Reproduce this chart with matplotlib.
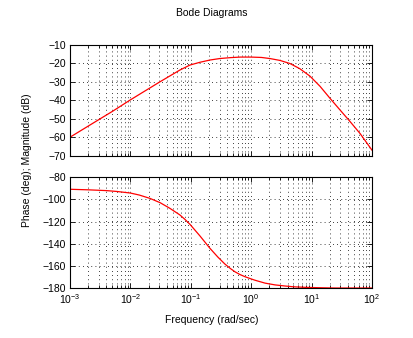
import matplotlib

matplotlib.use("Agg")
import matplotlib.pyplot as plt  # noqa: E402
from matplotlib.ticker import LogLocator, NullFormatter  # noqa: E402

# Magnitude response samples (rad/sec, dB)
MAG_FREQ = [0.001, 0.002, 0.00314, 0.005, 0.0098, 0.015, 0.021, 0.03, 0.045,
            0.066, 0.097, 0.142, 0.207, 0.3, 0.45, 0.66, 1.0, 1.48, 2.05,
            2.99, 4.4, 6.4, 9.4, 13.8, 20.2, 29.6, 43.5, 63.8, 100.0]
MAG_DB = [-60.0, -54.0, -50.1, -46.1, -40.0, -36.3, -33.4, -30.3, -26.9,
          -23.7, -21.0, -19.5, -18.3, -17.5, -17.0, -16.7, -16.7, -16.9,
          -17.5, -18.5, -20.2, -23.0, -27.0, -32.5, -39.0, -45.3, -51.6,
          -58.1, -67.0]

# Phase response samples (rad/sec, deg)
PHASE_FREQ = [0.001, 0.002, 0.004, 0.006, 0.01, 0.014, 0.021, 0.031, 0.045,
              0.066, 0.08, 0.097, 0.142, 0.208, 0.28, 0.366, 0.45, 0.537,
              0.65, 0.79, 1.0, 1.16, 1.7, 2.49, 3.65, 5.0, 7.8, 15.0, 24.6,
              100.0]
PHASE_DEG = [-90.8, -91.3, -92.0, -92.8, -94.2, -96.0, -99.0, -102.9, -108.0,
             -114.0, -118.0, -122.5, -133.0, -144.2, -152.0, -158.3, -162.3,
             -165.3, -167.8, -169.8, -171.8, -173.0, -175.6, -177.2, -178.2,
             -178.9, -179.4, -179.8, -180.0, -180.0]

MAG_TICKS = [-70, -60, -50, -40, -30, -20, -10]
PHASE_TICKS = [-180, -160, -140, -120, -100, -80]

LINE_COLOR = "#ff0000"
FONT = "Liberation Sans"
FS = 7.5

plt.rcParams["font.family"] = FONT
plt.rcParams["mathtext.fontset"] = "custom"
plt.rcParams["mathtext.rm"] = FONT
plt.rcParams["mathtext.it"] = FONT

fig = plt.figure(figsize=(4.13, 3.38), dpi=100)
ax_mag = fig.add_axes([0.1695, 0.5393, 0.7312, 0.3285])
ax_ph = fig.add_axes([0.1695, 0.1479, 0.7312, 0.3275])


def style_axes(ax, yticks, ylim):
    ax.set_xscale("log")
    ax.set_xlim(1e-3, 1e2)
    ax.set_ylim(*ylim)
    ax.set_yticks(yticks)
    ax.xaxis.set_major_locator(LogLocator(base=10, numticks=10))
    ax.xaxis.set_minor_locator(LogLocator(base=10, subs=range(2, 10), numticks=50))
    ax.xaxis.set_minor_formatter(NullFormatter())
    ax.tick_params(which="both", direction="in", top=True, right=True,
                   labelsize=FS, width=0.6)
    ax.tick_params(which="major", length=3.5, pad=3)
    ax.tick_params(which="minor", length=2)
    ax.grid(True, which="both", axis="x", color="black",
            linestyle=(0, (1, 4)), linewidth=0.6)
    ax.grid(True, which="major", axis="y", color="black",
            linestyle=(0, (1, 4)), linewidth=0.6)
    for spine in ax.spines.values():
        spine.set_linewidth(0.8)


ax_mag.plot(MAG_FREQ, MAG_DB, color=LINE_COLOR, linewidth=0.9)
style_axes(ax_mag, MAG_TICKS, (-70, -10))
ax_mag.tick_params(axis="x", labelbottom=False)

ax_ph.plot(PHASE_FREQ, PHASE_DEG, color=LINE_COLOR, linewidth=0.9)
style_axes(ax_ph, PHASE_TICKS, (-180, -80))

fig.text(0.513, 0.963, "Bode Diagrams", ha="center", va="center", fontsize=FS)
fig.text(0.513, 0.052, "Frequency (rad/sec)", ha="center", va="center",
         fontsize=FS)
fig.text(0.065, 0.527, "Phase (deg); Magnitude (dB)", ha="center",
         va="center", rotation=90, fontsize=FS)

fig.savefig("out.png", dpi=100)
